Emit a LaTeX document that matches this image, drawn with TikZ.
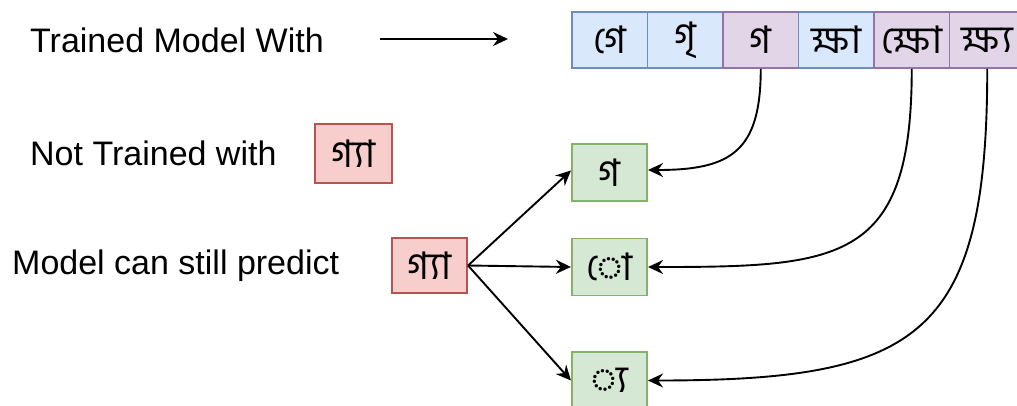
\documentclass[tikz,border=0pt]{standalone}
\usepackage{fontspec}
\setmainfont{Liberation Sans}
\newfontfamily\bnfont[Script=Bengali]{Hind Siliguri}
\usetikzlibrary{arrows.meta}

\definecolor{bluefill}{HTML}{DAE8FC}
\definecolor{blueline}{HTML}{6C8EBF}
\definecolor{purplefill}{HTML}{E1D5E7}
\definecolor{purpleline}{HTML}{9673A6}
\definecolor{redfill}{HTML}{F8CECC}
\definecolor{redline}{HTML}{B85450}
\definecolor{greenfill}{HTML}{D5E8D4}
\definecolor{greenline}{HTML}{82B366}

\begin{document}
\begin{tikzpicture}[x=1pt, y=-1pt,
    glyph/.style={draw, line width=1.6pt, minimum width=75.5pt, minimum height=56pt, inner sep=0pt, font=\bnfont\fontsize{38}{38}\selectfont},
    known/.style={glyph, fill=bluefill, draw=blueline},
    used/.style={glyph, fill=purplefill, draw=purpleline},
    unseen/.style={glyph, fill=redfill, draw=redline},
    part/.style={glyph, fill=greenfill, draw=greenline},
    caption/.style={anchor=west, inner sep=0pt, font=\fontsize{34}{34}\selectfont},
    link/.style={line width=1.9pt, -{Stealth[length=15pt, width=14pt, inset=5pt]}}]
%	\draw[help lines, step=50] (0,0) grid (1017,405);
	\useasboundingbox (0,0) rectangle (1017,405);
	% captions on the left
	\node[caption] (trained) at (30,40) {Trained Model With};
	\node[caption] (nottrained) at (30,153) {Not Trained with};
	\node[caption] (predict) at (12,266) {Model can still predict};
	\coordinate (arrowstart) at (380,39);
	\coordinate (arrowend) at (508,39);
	\draw[link] (arrowstart) -- (arrowend);
	% training set
	\node[known] (ge) at (609.75,40) {গে};
	\node[known] (gri) at (685.25,40) {গৃ};
	\node[used] (ga) at (760.75,40) {গ};
	\node[known] (kkha) at (836.25,40) {ক্ষা};
	\node[used] (kkho) at (911.75,40) {ক্ষো};
	\node[used] (kkhya) at (987.25,40) {ক্ষ্য};
	% unseen conjunct
	\node[unseen, minimum width=77pt, minimum height=59pt] (gya) at (353.5,153.5) {গ্যা};
	\node[unseen, minimum height=55pt] (gyain) at (429.5,265.5) {গ্যা};
	% predicted parts
	\node[part, minimum height=57pt] (pga) at (609.5,172.5) {গ};
	\node[part, minimum height=57pt] (po) at (609.5,267) {◌ো};
	\node[part, minimum height=57pt] (pya) at (609.5,380.5) {◌্য};
	\draw[link] (gyain.east) -- ([yshift=2pt]pga.west);
	\draw[link] (gyain.east) -- (po.west);
	\draw[link] (gyain.east) -- (pya.west);
	\draw[link] (ga.south) to[out=-90, in=0, looseness=1.4] ([yshift=2.5pt]pga.east);
	\draw[link] (kkho.south) to[out=-90, in=0, looseness=1.5] (po.east);
	\draw[link] (kkhya.south) to[out=-90, in=0, looseness=1.5] (pya.east);
\end{tikzpicture}
\end{document}
